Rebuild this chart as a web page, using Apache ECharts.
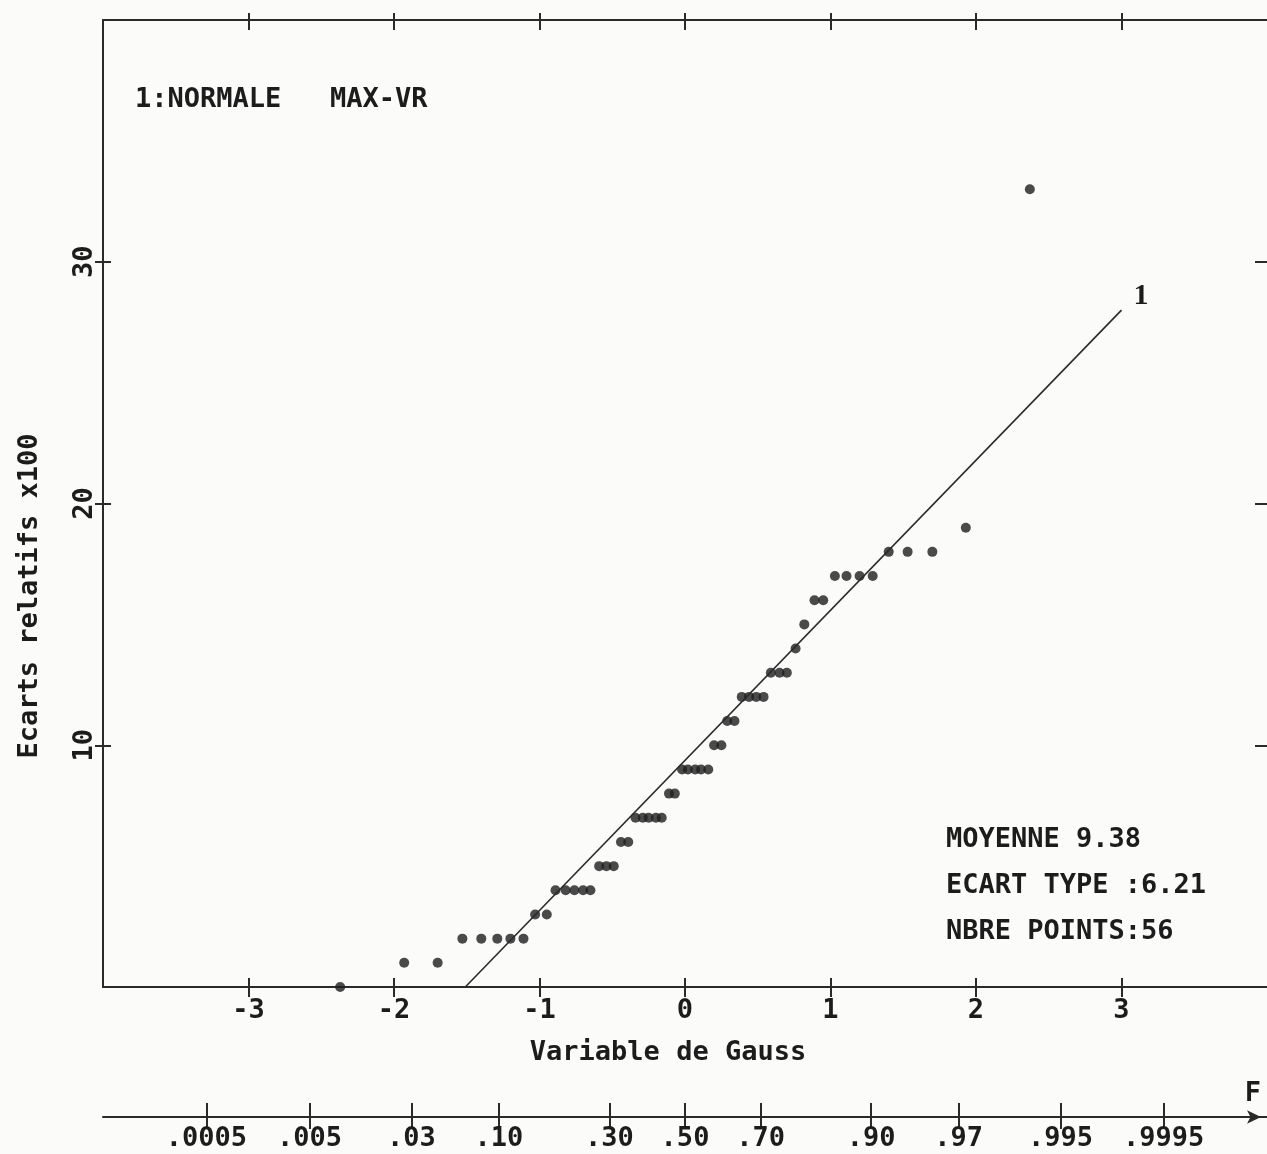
<!DOCTYPE html>
<html>
<head>
<meta charset="utf-8">
<script src="https://cdn.jsdelivr.net/npm/echarts@6/dist/echarts.min.js"></script>
<style>
html,body{margin:0;padding:0;background:#fbfbfa;}
#chart{width:1267px;height:1154px;}
</style>
</head>
<body>
<div id="chart"></div>
<script>
// Gaussian variable (x) for each of the 56 plotted points
const gaussX = [-2.37,-1.93,-1.70,-1.53,-1.40,-1.29,-1.20,-1.11,-1.03,-0.95,
  -0.89,-0.82,-0.76,-0.70,-0.65,-0.59,-0.54,-0.49,-0.44,-0.39,
  -0.34,-0.29,-0.25,-0.20,-0.16,-0.11,-0.07,-0.02,0.02,0.07,
  0.11,0.16,0.20,0.25,0.29,0.34,0.39,0.44,0.49,0.54,
  0.59,0.65,0.70,0.76,0.82,0.89,0.95,1.03,1.11,1.20,
  1.29,1.40,1.53,1.70,1.93,2.37];
// Ecarts relatifs x100
const ecarts = [0,1,1,2,2,2,2,2,3,3,
  4,4,4,4,4,5,5,5,6,6,
  7,7,7,7,7,8,8,9,9,9,
  9,9,10,10,11,11,12,12,12,12,
  13,13,13,14,15,16,16,17,17,17,
  17,18,18,18,19,33];
// Fitted normal line "1" (endpoints)
const lineX = [-1.51, 3.0];
const lineY = [0, 28.0];
const lineName = '1';
// Tick labels
const gaussTicks = [-3,-2,-1,0,1,2,3];
const yTicks = [10,20,30];
const probZ = [-3.29,-2.58,-1.88,-1.28,-0.52,0,0.52,1.28,1.88,2.58,3.29];
const probLabels = ['.0005','.005','.03','.10','.30','.50','.70','.90','.97','.995','.9995'];
// Texts
const titleText = '1:NORMALE   MAX-VR';
const statsLines = ['MOYENNE 9.38','ECART TYPE :6.21','NBRE POINTS:56'];
const xName = 'Variable de Gauss';
const yName = 'Ecarts relatifs x100';
const probName = 'F';

const FONT = 'DejaVu Sans Mono';
const INK = '#1c1c1c';
const FW = 'bold';
const txt = {fontFamily: FONT, fontSize: 27, fontWeight: FW, color: INK};
const CSS_FONT = 'bold 27px "DejaVu Sans Mono"';
const lineStyle = {color: '#2a2a2a', width: 2};

const chart = echarts.init(document.getElementById('chart'));

function baseX(extra){
  const o = Object.assign({type:'value', min:-4, max:4, interval:1, gridIndex:0,
    splitLine:{show:false}, axisLabel:{show:false},
    axisTick:{show:false}}, extra);
  o.axisLine = Object.assign({show:false}, extra.axisLine || {}, {onZero:false});
  return o;
}
function baseY(extra){
  const o = Object.assign({type:'value', min:0, max:40, interval:10, gridIndex:0,
    splitLine:{show:false}, axisLabel:{show:false},
    axisTick:{show:false}}, extra);
  o.axisLine = Object.assign({show:false}, extra.axisLine || {}, {onZero:false});
  return o;
}

const option = {
  backgroundColor: '#fbfbfa',
  animation: false,
  grid: [
    {left:103, right:0, top:20, bottom:167},
    {left:103, right:0, top:1116, height:1}
  ],
  xAxis: [
    baseX({position:'bottom',
      axisLine:{show:true, lineStyle:lineStyle},
      axisTick:{show:true, inside:false, length:10, lineStyle:lineStyle, customValues: gaussTicks},
      axisLabel:Object.assign({show:true, margin:10, customValues: gaussTicks,
        formatter: v => String(v)}, txt)}),
    baseX({position:'bottom',
      axisTick:{show:true, inside:true, length:9, lineStyle:lineStyle, customValues: gaussTicks}}),
    baseX({position:'top',
      axisLine:{show:true, lineStyle:lineStyle},
      axisTick:{show:true, inside:false, length:7, lineStyle:lineStyle, customValues: gaussTicks}}),
    baseX({position:'top',
      axisTick:{show:true, inside:true, length:10, lineStyle:lineStyle, customValues: gaussTicks}}),
    baseX({gridIndex:1, position:'bottom',
      axisLine:{show:true, lineStyle:lineStyle, symbol:['none','arrow'], symbolSize:[10,14], symbolOffset:[0,-6]},
      axisTick:{show:true, inside:false, length:12, lineStyle:lineStyle, customValues: probZ},
      axisLabel:Object.assign({show:true, margin:8, customValues: probZ,
        formatter: function(v){
          let best=0, bd=1e9;
          probZ.forEach((z,i)=>{const d=Math.abs(z-v); if(d<bd){bd=d;best=i;}});
          return probLabels[best];
        }}, txt)}),
    baseX({gridIndex:1, position:'bottom',
      axisTick:{show:true, inside:true, length:14, lineStyle:lineStyle, customValues: probZ}})
  ],
  yAxis: [
    baseY({position:'left',
      axisLine:{show:true, lineStyle:lineStyle},
      axisTick:{show:true, inside:false, length:8, lineStyle:lineStyle, customValues: yTicks},
      axisLabel:Object.assign({show:true, rotate:90, margin:5, customValues: yTicks}, txt)}),
    baseY({position:'left',
      axisTick:{show:true, inside:true, length:8, lineStyle:lineStyle, customValues: yTicks}}),
    baseY({position:'right',
      axisTick:{show:true, inside:true, length:12, lineStyle:lineStyle, customValues: yTicks}}),
    baseY({gridIndex:1, min:0, max:1})
  ],
  series: [
    {
      type:'scatter', xAxisIndex:0, yAxisIndex:0,
      symbol:'circle', symbolSize:10,
      itemStyle:{color:'#1e1e1e'},
      data: gaussX.map((x,i)=>[x, ecarts[i]])
    },
    {
      type:'line', xAxisIndex:0, yAxisIndex:0,
      symbol:'none', showSymbol:false,
      lineStyle:{color:'#2a2a2a', width:1.6},
      endLabel:{show:true, formatter: lineName, distance:0, offset:[12,-14],
        fontFamily:'Liberation Serif', fontSize:30, fontWeight:'bold', color:INK},
      data: lineX.map((x,i)=>[x, lineY[i]])
    }
  ],
  graphic: [
    {type:'text', x:135, y:100, style:{text:titleText, font:CSS_FONT, fill:INK, verticalAlign:'middle'}},
    {type:'text', x:946, y:840, style:{text:statsLines[0], font:CSS_FONT, fill:INK, verticalAlign:'middle'}},
    {type:'text', x:946, y:886, style:{text:statsLines[1], font:CSS_FONT, fill:INK, verticalAlign:'middle'}},
    {type:'text', x:946, y:932, style:{text:statsLines[2], font:CSS_FONT, fill:INK, verticalAlign:'middle'}},
    {type:'text', x:668, y:1053, style:{text:xName, font:CSS_FONT, fill:INK, align:'center', verticalAlign:'middle'}},
    {type:'text', x:30, y:596, rotation:Math.PI/2, style:{text:yName, font:CSS_FONT, fill:INK, align:'center', verticalAlign:'middle'}},
    {type:'text', x:1253, y:1094, style:{text:probName, font:CSS_FONT, fill:INK, align:'center', verticalAlign:'middle'}}
  ]
};
chart.setOption(option);
</script>
</body>
</html>
